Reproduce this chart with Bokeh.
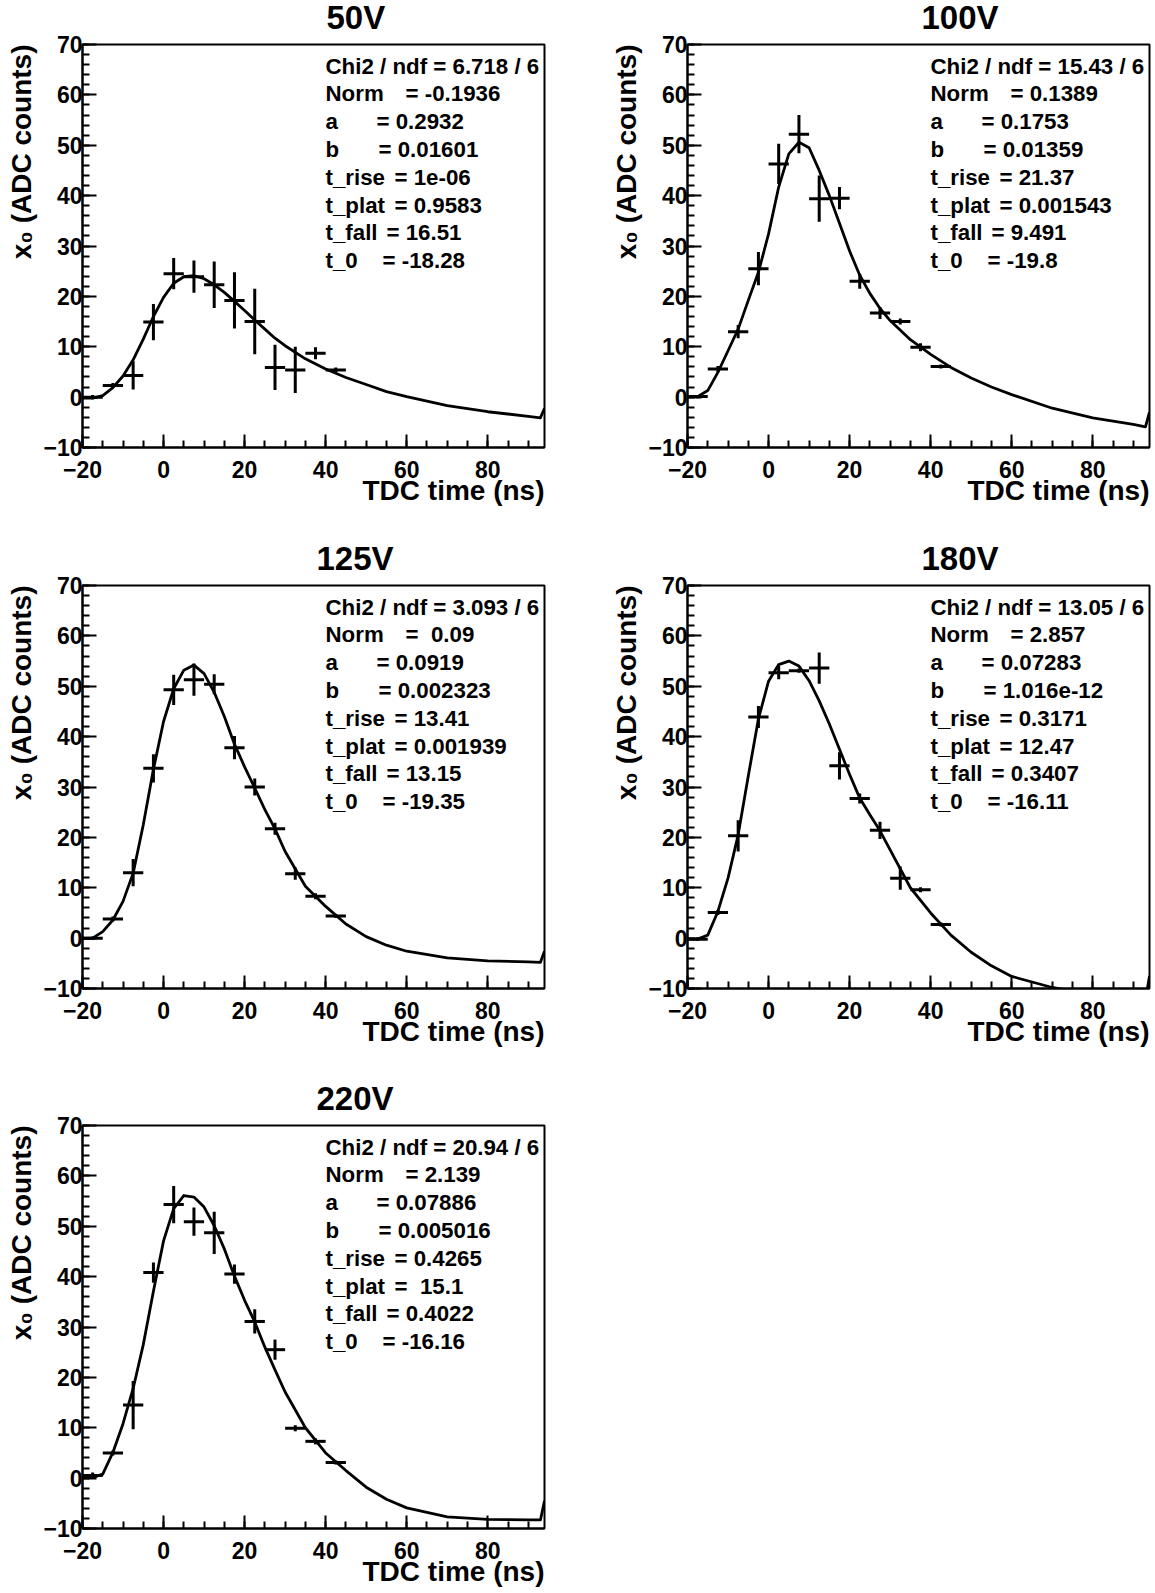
import math
from bokeh.plotting import figure
from bokeh.models import Range1d, SingleIntervalTicker, Label, ColumnDataSource, Title
from bokeh.layouts import column, row
from bokeh.embed import file_html
from bokeh.resources import INLINE

# ---------------- data ----------------
titles = ["50V", "100V", "125V", "180V", "220V"]

bin_centers = [-17.5, -12.5, -7.5, -2.5, 2.5, 7.5, 12.5, 17.5, 22.5, 27.5, 32.5, 37.5, 42.5]
bin_halfwidth = [2.5] * 13

y_50V = [0.0, 2.3, 4.3, 14.9, 24.5, 23.9, 22.3, 19.2, 15.0, 5.9, 5.4, 8.7, 5.4]
e_50V = [0.4, 0.5, 2.8, 3.6, 3.1, 3.2, 4.6, 5.6, 6.5, 4.5, 4.6, 1.2, 0.5]
y_100V = [0.1, 5.6, 13.0, 25.5, 46.3, 52.2, 39.4, 39.5, 23.0, 16.7, 15.0, 9.9, 6.1]
e_100V = [0.3, 0.6, 1.3, 3.3, 4.0, 3.8, 4.6, 2.2, 1.5, 1.2, 0.6, 0.8, 0.4]
y_125V = [0.0, 3.8, 13.0, 33.7, 49.3, 51.3, 50.4, 37.8, 30.0, 21.7, 12.8, 8.3, 4.4]
e_125V = [0.3, 0.5, 2.7, 2.8, 3.0, 3.2, 2.0, 2.3, 1.7, 1.2, 1.2, 0.6, 0.4]
y_180V = [-0.2, 5.1, 20.3, 43.9, 52.7, 53.1, 53.6, 34.2, 27.7, 21.4, 11.9, 9.6, 2.7]
e_180V = [0.3, 0.5, 3.1, 2.2, 1.3, 0.4, 3.1, 2.7, 1.0, 1.7, 2.3, 0.5, 0.4]
y_220V = [0.5, 5.0, 14.5, 40.8, 54.3, 50.9, 48.7, 40.5, 31.1, 25.5, 9.9, 7.3, 3.1]
e_220V = [0.6, 0.5, 4.8, 2.0, 3.7, 2.8, 4.2, 1.9, 2.4, 2.0, 0.6, 0.6, 0.4]

# fit curves at these times
fit_t = [-20, -17.5, -15, -12.5, -10, -7.5, -5, -2.5, 0, 2.5, 5, 7.5, 10, 12.5, 15, 17.5,
         20, 22.5, 25, 27.5, 30, 35, 40, 45, 50, 55, 60, 70, 80, 90, 93, 94]
fit_50V = [-0.2, -0.2, 0.3, 1.9, 4.2, 7.4, 11.5, 16.0, 19.8, 22.6, 23.9, 24.1, 23.5, 22.3, 20.8, 19.0,
           17.2, 15.3, 13.5, 11.7, 10.2, 7.6, 5.6, 3.9, 2.5, 1.1, 0.1, -1.7, -2.9, -3.8, -4.1, -2.2]
fit_100V = [0.1, 0.1, 1.3, 4.9, 9.2, 13.5, 19.2, 24.8, 32.4, 41.7, 48.3, 50.6, 49.5, 45.0, 40.0, 34.5,
            29.0, 24.2, 20.6, 17.6, 15.2, 11.4, 8.5, 5.9, 3.8, 2.0, 0.5, -2.2, -4.1, -5.4, -5.9, -3.0]
fit_125V = [0.0, 0.0, 1.3, 3.6, 7.3, 12.9, 22.5, 33.5, 43.0, 49.5, 53.2, 54.2, 52.5, 48.8, 44.0, 38.5,
            34.0, 29.8, 25.5, 21.7, 17.2, 10.3, 6.3, 2.8, 0.3, -1.4, -2.6, -3.9, -4.5, -4.7, -4.8, -2.6]
fit_180V = [-0.2, -0.2, 0.6, 5.3, 11.9, 20.5, 32.2, 43.5, 51.0, 54.3, 55.0, 54.0, 51.1, 47.1, 42.5, 37.5,
            32.5, 27.8, 24.5, 21.3, 17.5, 10.0, 5.0, 0.6, -2.8, -5.5, -7.6, -9.8, -11.3, -12.0, -12.3, -7.5]
fit_220V = [0.1, 0.1, 0.8, 5.1, 10.8, 17.8, 26.5, 37.1, 47.1, 53.5, 56.1, 55.8, 53.8, 50.1, 45.5, 40.1,
            35.3, 31.0, 26.0, 21.5, 17.1, 10.0, 5.0, 1.5, -1.8, -4.2, -5.9, -7.7, -8.2, -8.3, -8.3, -4.5]

param_names = ["Norm", "a", "b", "t_rise", "t_plat", "t_fall", "t_0"]
chi2_ndf = ["6.718 / 6", "15.43 / 6", "3.093 / 6", "13.05 / 6", "20.94 / 6"]
params_50V = ["-0.1936", "0.2932", "0.01601", "1e-06", "0.9583", "16.51", "-18.28"]
params_100V = ["0.1389", "0.1753", "0.01359", "21.37", "0.001543", "9.491", "-19.8"]
params_125V = [" 0.09", "0.0919", "0.002323", "13.41", "0.001939", "13.15", "-19.35"]
params_180V = ["2.857", "0.07283", "1.016e-12", "0.3171", "12.47", "0.3407", "-16.11"]
params_220V = ["2.139", "0.07886", "0.005016", "0.4265", " 15.1", "0.4022", "-16.16"]

x_title = "TDC time (ns)"
y_title = "x\u2080 (ADC counts)"

series = [
    (y_50V, e_50V, fit_50V, params_50V),
    (y_100V, e_100V, fit_100V, params_100V),
    (y_125V, e_125V, fit_125V, params_125V),
    (y_180V, e_180V, fit_180V, params_180V),
    (y_220V, e_220V, fit_220V, params_220V),
]

# ---------------- layout / style ----------------
FONT = "Liberation Sans"
FRAME_W = 462
FRAME_H = 403
EQ_OFFSETS = [80, 51, 53, 69, 69, 61, 57]
STAT_SIZE = 22.3
TITLE_SIZE = 33
CHAR_W = {"0": 556, "1": 556, "2": 556, "5": 556, "8": 556, "V": 667}

# (figure width, figure height, frame left offset, frame top offset)
geometry = [
    (577, 540, 82, 44),
    (578, 540, 110, 44),
    (577, 540, 82, 45),
    (578, 540, 110, 45),
    (577, 513, 82, 45),
]


def lbl(x, y, text, size, align="left", baseline="middle"):
    return Label(x=x, y=y, x_units="screen", y_units="screen", text=text,
                 text_font=FONT, text_font_size=f"{size}px", text_font_style="bold",
                 text_color="black", text_align=align, text_baseline=baseline)


def ttl(text, size, align, valign, standoff, offset=0):
    return Title(text=text, align=align, vertical_align=valign, standoff=standoff, offset=offset,
                 text_font=FONT, text_font_size=f"{size}px", text_font_style="bold",
                 text_color="black")


def make_panel(k):
    width, height, left, top = geometry[k]
    right = width - left - FRAME_W
    bottom = height - top - FRAME_H
    yv, ev, fv, pv = series[k]
    p = figure(width=width, height=height, title=None,
               x_range=Range1d(-20, 94), y_range=Range1d(-10, 70),
               output_backend="svg", toolbar_location=None, tools="",
               min_border_left=left, min_border_right=right,
               min_border_top=top, min_border_bottom=bottom)
    p.xgrid.visible = False
    p.ygrid.visible = False
    p.background_fill_color = "white"
    p.border_fill_color = "white"
    p.outline_line_color = "black"
    p.outline_line_width = 2

    p.xaxis.ticker = SingleIntervalTicker(interval=20, num_minor_ticks=4)
    p.yaxis.ticker = SingleIntervalTicker(interval=10, num_minor_ticks=5)
    for ax in (p.xaxis[0], p.yaxis[0]):
        ax.axis_line_width = 2
        ax.axis_line_color = "black"
        ax.major_tick_line_width = 2
        ax.minor_tick_line_width = 2
        ax.major_tick_line_color = "black"
        ax.minor_tick_line_color = "black"
        ax.major_tick_out = 0
        ax.minor_tick_out = 0
        ax.major_label_text_font = FONT
        ax.major_label_text_font_size = "23px"
        ax.major_label_text_font_style = "bold"
        ax.major_label_text_color = "black"
    p.xaxis.major_tick_in = 13
    p.xaxis.minor_tick_in = 7
    p.yaxis.major_tick_in = 14
    p.yaxis.minor_tick_in = 7
    p.xaxis.major_label_standoff = 13
    p.yaxis.major_label_standoff = 0

    src = ColumnDataSource(dict(
        x=bin_centers, y=yv,
        xlo=[c - h for c, h in zip(bin_centers, bin_halfwidth)],
        xhi=[c + h for c, h in zip(bin_centers, bin_halfwidth)],
        ylo=[a - e for a, e in zip(yv, ev)],
        yhi=[a + e for a, e in zip(yv, ev)],
    ))
    p.line(fit_t, fv, line_color="black", line_width=2.8, line_join="round")
    p.segment(x0="x", y0="ylo", x1="x", y1="yhi", source=src, line_color="black", line_width=3)
    p.segment(x0="xlo", y0="y", x1="xhi", y1="y", source=src, line_color="black", line_width=3)

    # title: a thin spacer next to the frame lifts the title, centred ~273 px right of the frame's left edge
    p.add_layout(Title(text="\u00a0", text_font_size="10px", standoff=4), "above")
    tw = sum(CHAR_W.get(c, 600) for c in titles[k]) / 1000 * TITLE_SIZE
    p.add_layout(ttl(titles[k], TITLE_SIZE, "left", "bottom", -16, offset=int(round(273 - tw / 2))), "above")
    # axis titles
    p.add_layout(ttl(x_title, 28, "right", "top", -12), "below")
    p.add_layout(ttl(y_title, 28, "right", "bottom", 7), "left")

    # fit statistics
    tx = 243
    p.add_layout(lbl(tx, FRAME_H - 21.5, "Chi2 / ndf = " + chi2_ndf[k], STAT_SIZE))
    for j, (name, val) in enumerate(zip(param_names, pv)):
        yy = FRAME_H - (21.5 + 27.8 * (j + 1))
        p.add_layout(lbl(tx, yy, name, STAT_SIZE))
        p.add_layout(lbl(tx + EQ_OFFSETS[j], yy, "= " + val.replace(" ", "\u00a0"), STAT_SIZE))
    return p


panels = [make_panel(k) for k in range(5)]
layout = column(row(panels[0], panels[1]), row(panels[2], panels[3]), row(panels[4]))

with open("out.html", "w") as f:
    f.write(file_html(layout, INLINE, title="fits"))
